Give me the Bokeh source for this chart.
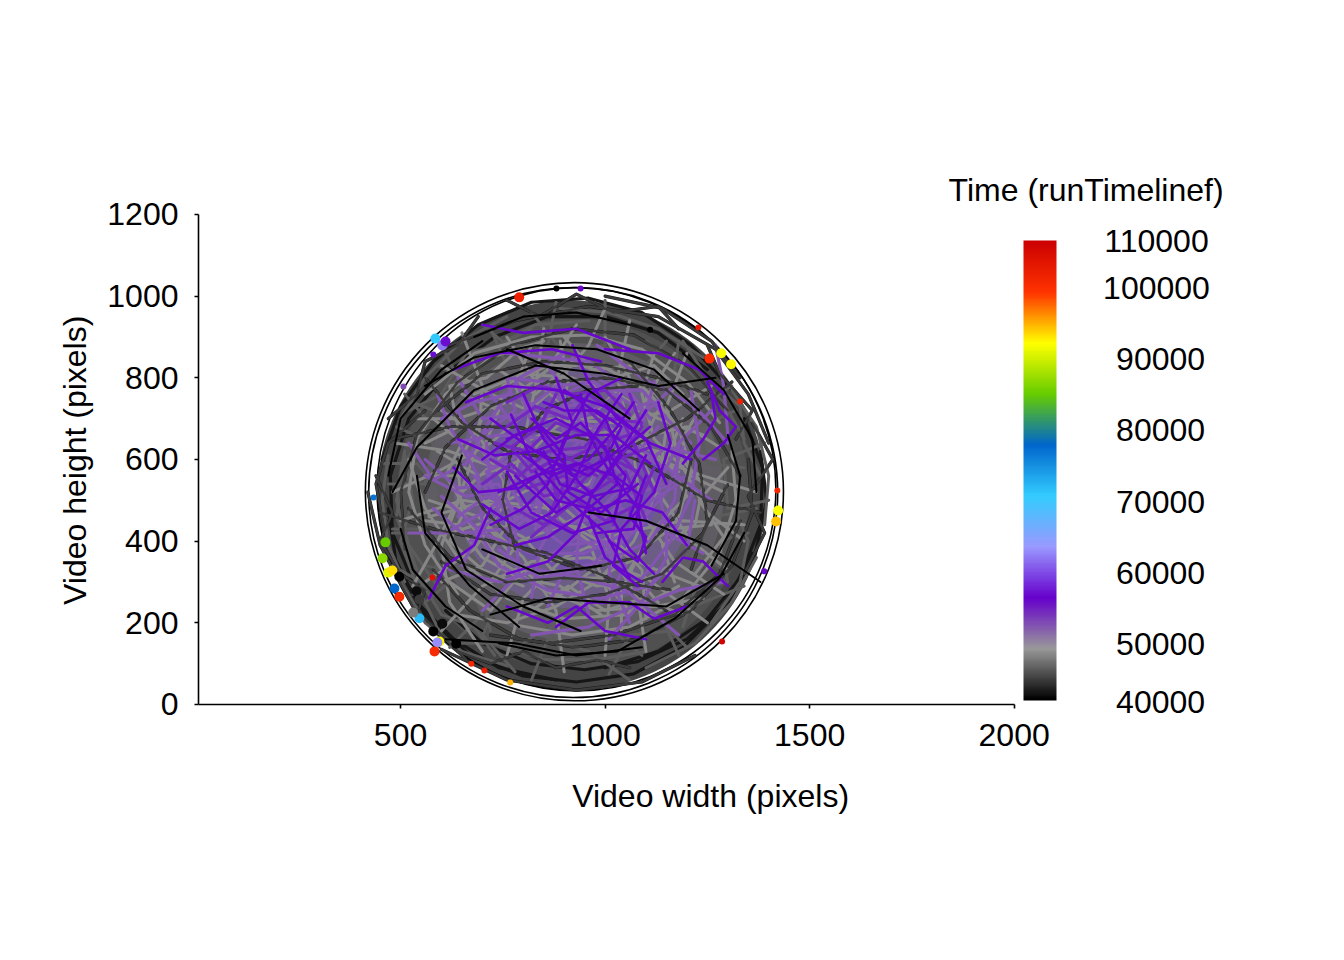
from bokeh.plotting import figure
from bokeh.models import Range1d, LinearColorMapper, ColorBar, FixedTicker, LinearAxis
from bokeh.core.properties import value
from bokeh.embed import file_html
from bokeh.resources import INLINE
import numpy as np

FONT = "Liberation Sans"

x_ticks = [500, 1000, 1500, 2000]
y_ticks = [0, 200, 400, 600, 800, 1000, 1200]
legend_ticks = [50000, 60000, 70000, 80000, 90000, 100000]
legend_wide_labels = [(110000, 106620), (100000, 100000)]
legend_low_label = (40000, 41830)
time_low, time_high = 41972, 106760
stops = ["#000000", "#999999", "#6600CC", "#9999FF", "#33CCFF", "#0066CC", "#66CC00", "#FFFF00", "#FF3300", "#CC0000"]

backdrop = [(918, 512, 950, 955, "#444444"), (922, 515, 860, 860, "#505050"), (925, 520, 730, 730, "#5f5d63"),
            (925, 530, 590, 590, "#6b5d84"), (920, 545, 430, 430, "#6f52a6")]
rings = [(925, 521, 1022, 1024), (922, 519, 1000, 1004), (930, 527, 975, 988)]

paths_grey = [
[(560,760),(680,860),(820,900),(960,905),(1090,870),(1200,790),(1280,690)],
[(520,600),(560,480),(640,360),(760,260),(900,210),(1050,220),(1180,290)],
[(1310,620),(1320,500),(1280,370),(1190,260),(1060,190),(920,170),(780,195)],
[(640,270),(560,390),(520,520),(540,650),(610,760),(720,850),(850,890)],
[(600,830),(720,760),(860,700),(1020,690),(1160,720),(1260,780)],
[(500,450),(650,500),(800,480),(950,420),(1100,340),(1230,290)],
[(560,300),(680,380),(760,500),(800,640),(830,780),(850,920)],
[(1060,940),(1030,800),(1060,660),(1130,520),(1210,400),(1300,330)],
[(760,120),(800,260),(900,360),(1040,420),(1190,450),(1340,440)],
[(490,640),(620,620),(760,570),(880,500),(1000,390),(1080,260),(1100,130)],
[(650,910),(700,780),(690,640),(640,500),(580,380),(530,290)],
[(1200,860),(1150,730),(1180,600),(1250,470),(1340,400)],
[(480,520),(590,570),(720,640),(860,760),(960,880),(1000,970)],
[(600,180),(700,290),(820,350),(960,360),(1100,310),(1250,200)],
[(900,80),(880,230),(800,360),(690,460),(570,500)],
[(1370,520),(1240,560),(1100,610),(960,680),(830,790),(760,900)],
[(700,130),(620,250),(600,390),(650,520),(760,620),(900,690),(1060,720)],
[(1290,270),(1170,350),(1090,470),(1070,610),(1100,750),(1170,860)],
[(640,220),(760,200),(880,240),(980,300),(1070,400),(1130,530),(1150,680)],
[(1000,120),(1010,260),(960,400),(860,480),(720,500),(570,460)],
[(540,700),(640,700),(760,740),(860,820),(930,930)],
[(1240,260),(1120,240),(980,230),(850,280),(730,360),(650,470)],
[(700,700),(640,590),(650,470),(730,370),(850,310),(980,310),(1100,370)],
[(1180,460),(1210,570),(1180,680),(1100,770),(990,830),(860,830),(750,780)],
[(620,420),(720,450),(800,410),(870,330),(980,290),(1090,300),(1190,360)],
[(1240,660),(1130,700),(1030,760),(920,800),(800,810),(680,760)],
[(590,620),(690,560),(800,600),(880,680),(910,790),(890,890)],
[(1120,860),(1090,760),(1120,650),(1210,560),(1290,520)],
[(600,300),(700,340),(760,440),(750,560),(690,660),(600,720)],
[(1100,210),(1090,330),(1010,420),(900,440),(790,400),(720,300)],
[(820,880),(780,780),(830,680),(940,650),(1050,680),(1130,780)],
[(560,450),(640,440),(700,360),(790,310),(890,290),(990,220)],
[(1260,440),(1160,430),(1090,380),(1040,280),(1040,180)],
[(1280,630),(1200,680),(1110,660),(1020,620),(960,540),(900,520)],
[(580,700),(650,640),(610,560),(660,480),(620,400),(700,330),(800,290)],
[(1230,720),(1170,620),(1240,540),(1220,440),(1140,390),(1170,300)],
[(740,820),(830,760),(920,840),(1020,800),(1120,830),(1190,760)],
[(820,230),(910,290),(1000,230),(1090,260),(1190,220)],
[(650,760),(740,720),(700,620),(760,540),(700,450),(760,380)],
[(1130,250),(1060,330),(1120,430),(1200,510),(1150,600),(1190,700)],
[(560,560),(650,560),(720,480),(820,530),(890,440),(990,480)],
[(900,900),(970,820),(1070,830),(1140,740),(1090,640),(1180,570)],
[(620,300),(720,230),(800,330),(880,260),(970,330),(1060,230)],
[(560,640),(640,680),(620,780),(710,800),(790,870)],
[(1300,580),(1230,500),(1290,410),(1220,320)],
[(1000,900),(1060,800),(980,720),(1040,640),(1130,620)],
]
paths_band = [
[(500,300),(560,200),(650,130),(760,95)],
[(1100,90),(1220,150),(1310,250),(1370,360)],
[(1390,440),(1400,560),(1370,680),(1310,770)],
[(1240,850),(1130,920),(1010,960),(890,970)],
[(760,950),(650,890),(560,800),(500,700)],
[(470,610),(455,500),(470,390),(510,300)],
[(540,330),(490,460),(510,590),(570,690),(510,760)],
[(620,140),(700,220),(660,320),(560,340)],
[(820,60),(860,160),(960,130),(1060,60)],
[(1180,120),(1140,210),(1240,250),(1340,290)],
[(1400,500),(1300,480),(1290,600),(1390,640)],
[(1310,780),(1220,720),(1170,820),(1180,890)],
[(1000,990),(1000,880),(900,860),(820,960)],
[(720,920),(760,830),(670,790),(590,830)],
[(490,680),(580,640),(560,540),(470,540)],
[(480,420),(570,420),(590,330),(530,270)],
[(640,150),(730,150),(850,110),(980,110),(1100,130)],
[(1260,200),(1330,300),(1350,400),(1320,470)],
[(1340,650),(1290,740),(1200,820),(1100,890)],
[(960,940),(830,930),(720,870),(620,780)],
[(510,620),(490,500),(520,390),(590,290)],
[(780,80),(700,170),(740,250),(840,220),(900,120)],
[(1010,75),(1060,170),(1160,180),(1200,140)],
[(1290,330),(1220,380),(1270,460),(1370,480)],
[(1340,580),(1250,590),(1230,680),(1320,720)],
[(1150,890),(1090,820),(1000,860),(1000,950)],
[(880,985),(860,880),(760,880),(700,930)],
[(610,860),(650,780),(580,720),(530,740)],
[(460,590),(540,590),(600,520),(560,430),(480,430)],
[(560,250),(620,300),(700,260),(720,180)],
[(480,340),(550,300),(600,220),(680,190),(730,120)],
[(1190,890),(1250,800),(1330,730),(1340,640),(1380,560)],
[(1350,420),(1280,400),(1300,300),(1220,280),(1190,190)],
[(1090,120),(1020,180),(920,200),(830,170),(770,130)],
[(520,720),(600,760),(660,860),(740,880),(820,920)],
[(600,170),(540,290),(500,400),(530,500),(510,610)],
]
paths_dark = [
[(470,480),(490,340),(560,220),(670,120),(800,70),(930,55),(1070,75),(1190,140),(1290,240),(1360,370)],
[(455,600),(500,730),(580,840),(690,930),(820,985),(960,995),(1090,960),(1210,880),(1310,770)],
[(1380,620),(1395,500),(1365,360),(1300,250),(1200,160),(1080,105),(950,85),(820,100),(700,150),(610,230)],
[(530,300),(480,420),(475,560),(520,700),(610,810),(730,900),(860,950),(1000,950),(1130,910),(1250,820)],
[(1340,700),(1385,580),(1380,440),(1330,310),(1250,210),(1130,130),(1000,90)],
[(880,60),(740,90),(630,160),(540,250),(490,350)],
[(510,380),(500,520),(540,660),(640,790),(770,880),(920,920),(1070,905),(1200,830),(1300,720)],
[(1350,600),(1360,470),(1310,340),(1210,230),(1080,160),(930,140),(790,160),(670,230),(580,330)],
[(560,720),(470,640),(440,540),(460,430)],
[(620,880),(780,940),(960,975),(1130,950),(1270,870),(1350,760),(1400,640)],
[(1000,1000),(1140,970),(1260,890),(1330,800)],
[(600,135),(760,60),(930,35),(1090,55),(1220,120)],
[(420,520),(450,390),(530,240),(660,110)],
[(1250,760),(1130,800),(1000,830),(850,840),(700,810),(590,720)],
[(720,170),(860,150),(1020,170),(1170,220),(1280,320),(1330,450)],
[(600,350),(720,270),(860,250),(1000,270),(1140,320),(1240,420),(1300,540)],
[(1330,560),(1260,680),(1150,770),(1010,800),(860,790),(720,730),(610,630),(560,520)],
[(450,470),(580,430),(720,400),(860,370),(1010,310),(1150,230)],
[(480,650),(620,680),(780,680),(950,650),(1100,590),(1250,500),(1380,470)],
[(560,800),(650,690),(760,620),(890,600),(1040,620),(1200,700),(1310,790)],
[(640,600),(700,480),(800,380),(940,330),(1080,360),(1180,470),(1210,600)],
[(1080,780),(960,770),(850,720),(770,620),(750,500),(780,380)],
[(520,480),(620,360),(760,300),(900,310),(1030,300),(1160,280)],
[(1060,840),(1160,720),(1230,590),(1250,450),(1210,330)],
[(440,560),(480,470),(450,400),(500,320),(560,280),(540,220)],
[(640,130),(720,100),(800,130),(880,90),(980,110),(1060,90)],
[(1340,320),(1390,420),(1350,510),(1410,600),(1360,690)],
[(470,700),(540,760),(560,840),(640,880),(690,950)],
[(760,990),(840,950),(930,1005),(1020,960),(1130,975),(1180,920)],
[(1250,880),(1280,810),(1360,720),(1320,650)],
]
paths_mauve = [
[(640,720),(700,620),(790,560),(900,550),(1010,590),(1090,680),(1120,790)],
[(600,510),(700,420),(820,370),(950,370),(1070,430),(1150,520),(1190,630)],
[(1220,500),(1200,380),(1110,290),(990,260),(860,280),(740,340),(680,440)],
[(680,560),(760,470),(860,430),(970,460),(1050,540),(1070,650),(1030,760)],
[(620,640),(740,660),(880,650),(1010,640),(1150,580),(1260,500)],
[(1010,160),(1080,240),(1180,280),(1290,300)],
[(780,800),(820,690),(800,570),(720,480),(610,420),(520,420)],
[(860,830),(930,730),(950,610),(900,490),(840,380),(820,260)],
[(1170,780),(1080,700),(990,600),(940,470),(930,340),(960,220)],
[(580,480),(650,420),(760,430),(860,520),(900,640),(890,770)],
[(1270,600),(1150,630),(1060,560),(1020,440),(1010,320),(1060,200)],
[(1210,770),(1230,640),(1210,510),(1160,400),(1090,310)],
[(620,330),(740,300),(840,330),(940,310),(1050,280),(1180,170)],
[(520,640),(580,550),(660,590),(720,700),(790,800),(900,860)],
[(700,230),(790,320),(780,430),(720,540),(710,640)],
[(1270,880),(1290,780),(1300,660)],
[(980,880),(1090,800),(1220,730),(1300,640)],
[(820,170),(960,190),(1090,250),(1150,360),(1150,470)],
[(560,560),(660,510),(790,530),(900,610),(1000,700),(1110,740)],
[(640,800),(700,700),(790,710),(880,780),(970,790),(1090,720)],
[(1180,540),(1100,490),(1040,400),(950,330),(840,310),(740,380)],
[(650,340),(700,440),(690,560),(620,680),(590,760)],
[(860,240),(900,330),(1000,350),(1110,400),(1170,500),(1180,640)],
[(720,760),(780,680),(850,600),(950,570),(1060,590),(1130,680)],
[(1260,720),(1180,640),(1130,540),(1150,420),(1240,370)],
[(760,860),(860,850),(960,840),(1050,780),(1110,700)],
[(560,600),(640,530),(740,540),(780,460),(760,360)],
[(1060,300),(1000,400),(900,390),(820,450),(750,560)],
[(700,660),(780,720),(760,800),(850,790),(930,700),(1020,750)],
[(640,460),(710,510),(800,470),(890,530),(950,450),(1040,480),(1120,440)],
[(760,420),(840,480),(810,570),(890,620),(990,610),(1070,540)],
[(1120,600),(1040,660),(1070,750),(980,800),(900,760)],
[(660,620),(730,580),(800,660),(880,720),(970,680),(1050,720)],
[(860,360),(930,410),(1010,370),(1090,440),(1120,520),(1200,560)],
[(670,400),(740,470),(710,570),(790,610),(850,520),(830,430)],
[(920,850),(990,770),(1090,770),(1160,690),(1210,640)],
[(1000,250),(1050,340),(970,420),(1040,500),(1140,540)],
[(600,700),(680,740),(770,760),(850,720),(960,740)],
]
paths_violet = [
[(760,680),(830,730),(910,700),(960,760),(1040,700),(1080,620)],
[(720,600),(790,560),(860,620),(950,630),(1010,700),(1090,690)],
[(780,480),(850,440),(930,500),(1000,450),(1080,490),(1120,580)],
[(700,540),(770,590),(850,510),(930,530),(1000,610),(1080,570)],
[(820,410),(890,470),(870,560),(960,590),(1040,530),(1020,440)],
[(760,740),(840,780),(920,760),(1000,770),(1060,710)],
[(730,640),(810,620),(880,690),(960,660),(1030,600),(1110,630)],
[(850,660),(910,600),(990,640),(1060,660),(1120,520)],
[(810,530),(900,560),(970,520),(1050,570),(1100,450)],
[(880,760),(840,680),(770,630),(820,570),(900,610),(980,560)],
[(960,720),(1020,660),(980,580),(900,540),(860,460),(930,420)],
[(1060,760),(1090,680),(1040,610),(1100,540),(1060,470),(1100,400)],
]
paths_purple = [
[(700,600),(780,660),(880,700),(980,650),(1050,560),(1020,450),(920,420),(820,470),(760,570)],
[(740,520),(830,560),(930,590),(1020,560),(1080,480),(1100,370)],
[(800,760),(850,650),(940,540),(1010,470),(1060,380),(1120,320)],
[(700,490),(790,430),(870,470),(930,560),(980,670),(1040,760)],
[(880,800),(920,690),(880,590),(790,530),(690,520),(630,580)],
[(1110,680),(1040,620),(970,520),(930,420),(860,350),(760,320)],
[(660,740),(760,780),(880,770),(1000,730),(1100,650),(1150,540)],
[(780,390),(860,410),(950,470),(1050,500),(1140,470),(1200,390)],
[(1040,800),(960,760),(900,650),(860,540),(800,480),(720,440)],
[(920,880),(960,790),(1030,700),(1110,640),(1210,600)],
[(640,650),(730,610),(830,620),(930,660),(1020,660),(1110,590)],
[(850,620),(890,540),(970,510),(1060,530),(1100,610)],
[(960,460),(1000,360),(1040,330),(1090,300)],
[(770,710),(820,600),(900,510),(1000,420),(1060,310)],
[(1000,870),(1130,860),(1230,820),(1290,760)],
[(1260,760),(1270,700),(1240,650),(1190,590)],
[(630,820),(740,860),(870,870),(990,840)],
[(880,190),(960,250),(1060,250),(1120,210),(1200,240)],
[(1130,740),(1160,640),(1120,520),(1040,430),(1020,340),(1080,290)],
[(700,930),(800,910),(930,920),(1060,870)],
[(760,240),(860,200),(930,240),(1000,180),(1100,160)],
[(720,480),(680,390),(610,340),(570,260)],
[(1140,300),(1190,360),(1240,350),(1300,290)],
[(820,700),(880,650),(940,690),(1000,630),(1030,540),(960,480),(880,500),(830,570)],
[(800,610),(870,560),(960,600),(1030,680),(1070,740)],
[(850,740),(900,720),(980,720),(1040,680),(1000,600),(920,560),(840,620)],
[(760,650),(840,680),(900,610),(910,520),(990,470),(1080,540)],
[(940,760),(960,660),(1010,570),(1090,510),(1070,430),(980,420)],
[(780,560),(880,470),(980,530),(1040,610),(1000,700),(900,770)],
[(720,700),(800,640),(860,600),(960,560),(1050,640),(1100,720)],
[(1010,400),(1080,350),(1100,410),(1060,460),(1100,560)],
[(1250,790),(1280,720),(1320,680),(1290,640),(1240,600)],
]
paths_black = [
[(480,520),(540,630),(680,770),(830,830),(1000,810),(1130,780),(1270,800)],
[(720,220),(860,260),(1010,250),(1150,240),(1290,320)],
[(650,610),(600,470),(660,330),(800,240),(940,180)],
[(1380,300),(1250,390),(1100,450),(960,470)],
[(760,870),(900,810),(1060,700)],
[(610,160),(780,150),(930,120),(1090,140)],
[(700,380),(840,320),(990,340)],
[(540,560),(560,420),(670,290),(790,190)],
[(560,780),(680,850),(830,880),(980,870),(1120,820),(1230,720)],
[(1340,420),(1280,310),(1170,210),(1030,130),(880,120),(740,150)],
[(500,430),(530,330),(610,240),(700,180)],
[(1300,660),(1330,560),(1320,450),(1260,340)],
[(680,900),(800,950),(930,960),(1060,930)],
[(470,560),(500,700),(600,820),(700,890)],
[(1190,860),(1290,770),(1360,650),(1370,520)],
]
big_x = [790, 585, 602, 610, 1284, 1255, 1308, 1423, 1418, 463, 456, 470, 480, 485, 497, 546, 595, 590, 583, 497, 539, 546, 602, 580, 636, 531]
big_y = [997, 896, 879, 889, 860, 847, 833, 475, 448, 397, 358, 323, 328, 284, 264, 211, 154, 152, 130, 313, 277, 257, 198, 179, 149, 225]
big_t = [102000, 71000, 62000, 57000, 92000, 100500, 92500, 92000, 94500, 85000, 87000, 91000, 93500, 78000, 100500, 72000, 92500, 63000, 100500, 42000, 42500, 45000, 42500, 42000, 41000, 48000]
small_x = [1228, 1330, 1421, 1286, 673, 705, 768, 434, 578, 580, 507, 1110, 881, 940, 1389]
small_y = [923, 742, 524, 154, 100, 83, 54, 507, 311, 857, 779, 918, 1019, 1019, 326]
small_t = [103000, 102000, 101000, 106000, 101000, 102000, 95000, 77000, 104000, 57000, 53000, 41000, 41000, 56000, 56000]

pos = np.linspace(0, len(stops) - 1, 256)
rgb = np.array([[int(c[i:i + 2], 16) for i in (1, 3, 5)] for c in stops])
palette = ["#%02x%02x%02x" % tuple(int(round(np.interp(q, range(len(stops)), rgb[:, k]))) for k in range(3)) for q in pos]
mapper = LinearColorMapper(palette=palette, low=time_low, high=time_high)

# The frame fills the whole canvas, so every text stays inside it; the axes are pinned and bounded.
p = figure(width=1336, height=828, output_backend="svg", toolbar_location=None,
           x_range=Range1d(-478, 2788), y_range=Range1d(-303.7, 1724),
           x_axis_location=None, y_axis_location=None,
           min_border=0, min_border_left=0, min_border_right=0, min_border_top=0, min_border_bottom=0,
           outline_line_color=None, background_fill_color="white", border_fill_color="white")
p.grid.visible = False
p.extra_y_ranges = {"time": Range1d(23944, 140563)}

xax = LinearAxis(fixed_location=0, bounds=(6, 2000), ticker=FixedTicker(ticks=x_ticks))
yax = LinearAxis(fixed_location=6, bounds=(0, 1200), ticker=FixedTicker(ticks=y_ticks))
for ax in (xax, yax):
    ax.axis_line_color = "black"
    ax.axis_line_width = 1.6
    ax.major_tick_line_color = "black"
    ax.major_tick_line_width = 1.6
    ax.major_tick_in = 0
    ax.major_tick_out = 4
    ax.minor_tick_line_color = None
    ax.major_label_text_font = FONT
    ax.major_label_text_font_size = "32px"
    ax.major_label_text_color = "black"
    ax.major_label_standoff = 16
p.add_layout(xax, "below")
p.add_layout(yax, "left")

def color_of(t):
    return mapper.palette[int(np.clip((t - time_low) / (time_high - time_low), 0, 0.999) * 256)]

for cx, cy, w, h, c in backdrop:
    p.ellipse(x=[cx], y=[cy], width=[w], height=[h], fill_color=c, line_color=None)
for cx, cy, w, h in rings:
    p.ellipse(x=[cx], y=[cy], width=[w], height=[h], fill_color=None, line_color="black", line_width=1.6)

layers = [(paths_dark, 43000, 3.2), (paths_band, 46500, 3.0), (paths_grey, 48500, 3.0), (paths_mauve, 52500, 3.2),
          (paths_dark[6:], 45000, 2.4), (paths_violet, 54500, 3.2), (paths_purple, 56800, 2.6), (paths_black, 41900, 2.0)]
for paths, t, lw in layers:
    xs = [[pt[0] for pt in path] for path in paths]
    ys = [[pt[1] for pt in path] for path in paths]
    p.multi_line(xs=xs, ys=ys, line_color=color_of(t), line_width=lw, line_join="round", line_cap="round")

p.scatter(x=big_x, y=big_y, size=10, line_color=None, fill_color=[color_of(t) for t in big_t])
p.scatter(x=small_x, y=small_y, size=6, line_color=None, fill_color=[color_of(t) for t in small_t])

bar = ColorBar(color_mapper=mapper, location=(1023, 828 - 700), width=33, height=460, padding=0, margin=0,
               major_tick_line_color=None, minor_tick_line_color=None, bar_line_color=None,
               major_label_text_font_size="0px", ticker=FixedTicker(ticks=[]), background_fill_color=None,
               border_line_color=None)
p.add_layout(bar, "center")

def text(x, y, s, align="center", angle=0.0, **kw):
    p.text(x=[x], y=[y], text=[s], text_font=value(FONT), text_font_size="32px", text_color="black",
           text_align=align, text_baseline="middle", angle=angle, **kw)

text(1258, -225, "Video width (pixels)")
text(-295, 598, "Video height (pixels)", angle=np.pi / 2)
text(2512, 1259, "Time (runTimelinef)", align="right")
for t in legend_ticks[:-1]:
    text(2358, t, str(t), y_range_name="time")
text(2358, legend_low_label[1], str(legend_low_label[0]), y_range_name="time")
for s, t in legend_wide_labels:
    text(2348, t, str(s), y_range_name="time")

open("out.html", "w").write(file_html(p, INLINE))
